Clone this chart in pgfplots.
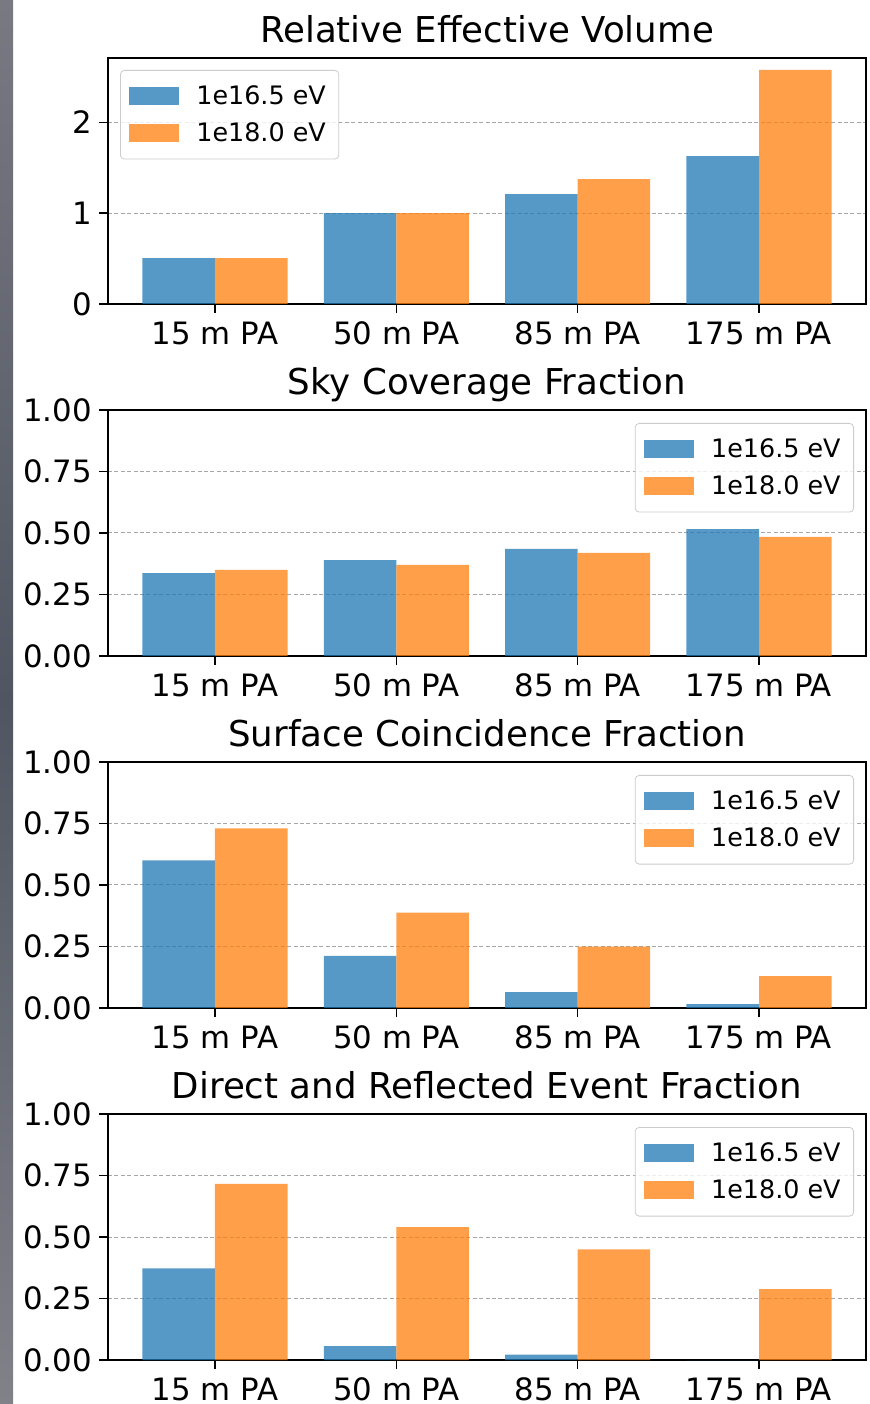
\documentclass[border=0pt]{standalone}
\usepackage{fontspec}
\setmainfont{DejaVu Sans}
\usepackage{pgfplots}
\pgfplotsset{compat=1.18}
\definecolor{tabblue}{RGB}{31,119,180}
\definecolor{taborange}{RGB}{255,127,14}
\definecolor{stripA}{RGB}{120,122,130}
\definecolor{stripB}{RGB}{80,85,97}
\definecolor{stripC}{RGB}{128,130,136}
\pgfplotsset{
  panel/.style={
    scale only axis, width=379pt, height=123pt, anchor=south west,
    xmin=-0.59, xmax=3.59, ymin=0,
    xtick={0,1,2,3}, xticklabels={15 m PA,50 m PA,85 m PA,175 m PA},
    tick align=outside, major tick length=4.5pt,
    xtick pos=bottom, ytick pos=left,
    tick style={black, line width=0.8pt},
    axis line style={line width=0.9pt},
    ymajorgrids, major grid style={black!35, line width=0.5pt, dash pattern=on 2pt off 1.2pt},
    ticklabel style={font=\fontsize{15.4}{17}\selectfont},
    xticklabel style={yshift=-0.8pt},
    /pgf/number format/assume math mode=true,
    title style={font=\fontsize{17.8}{20}\selectfont, at={(0.5,1)}, anchor=base, yshift=1.75pt},
    legend cell align=left,
    legend style={font=\fontsize{12.7}{14}\selectfont, draw=black!20, rounded corners=2pt,
      fill=white, fill opacity=0.8, text opacity=1, draw opacity=1,
      inner xsep=4.5pt, inner ysep=5.5pt, row sep=3.5pt, column sep=6.5pt},
  },
  bb/.style={ybar, bar width=0.4, bar shift=0pt, fill=tabblue, fill opacity=0.75, draw=none,
    legend image code/.code={\fill[tabblue, fill opacity=0.75, sharp corners] (0pt,-4.5pt) rectangle (25pt,4.5pt);}},
  oo/.style={ybar, bar width=0.4, bar shift=0pt, fill=taborange, fill opacity=0.75, draw=none,
    legend image code/.code={\fill[taborange, fill opacity=0.75, sharp corners] (0pt,-4.5pt) rectangle (25pt,4.5pt);}},
}
\begin{document}
\begin{tikzpicture}
\useasboundingbox (0,0) rectangle (434.5pt,702pt);
\fill[white] (0,0) rectangle (434.5pt,702pt);
\shade[top color=stripA, bottom color=stripC, middle color=stripB] (0,0) rectangle (6.5pt,702pt);

% Panel 1
\begin{axis}[panel, at={(54pt,550pt)}, ymax=2.71, ytick={0,1,2},
  title={Relative Effective Volume},
  legend style={at={(0,1)}, anchor=north west, xshift=6pt, yshift=-6pt}]
\addplot[bb] coordinates {(-0.2,0.505) (0.8,1.0) (1.8,1.21) (2.8,1.63)};
\addplot[oo] coordinates {(0.2,0.505) (1.2,1.0) (2.2,1.375) (3.2,2.58)};
\legend{1e16.5 eV, 1e18.0 eV}
\end{axis}

% Panel 2
\begin{axis}[panel, at={(54pt,374pt)}, ymax=1, ytick={0,0.25,0.5,0.75,1},
  yticklabels={0.00,0.25,0.50,0.75,1.00},
  legend style={at={(1,1)}, anchor=north east, xshift=-6pt, yshift=-6.5pt},
  title={Sky Coverage Fraction}]
\addplot[bb] coordinates {(-0.2,0.337) (0.8,0.39) (1.8,0.435) (2.8,0.516)};
\addplot[oo] coordinates {(0.2,0.35) (1.2,0.37) (2.2,0.419) (3.2,0.484)};
\legend{1e16.5 eV, 1e18.0 eV}
\end{axis}

% Panel 3
\begin{axis}[panel, at={(54pt,198pt)}, ymax=1, ytick={0,0.25,0.5,0.75,1},
  yticklabels={0.00,0.25,0.50,0.75,1.00},
  legend style={at={(1,1)}, anchor=north east, xshift=-6pt, yshift=-6.5pt},
  title={Surface Coincidence Fraction}]
\addplot[bb] coordinates {(-0.2,0.60) (0.8,0.212) (1.8,0.065) (2.8,0.016)};
\addplot[oo] coordinates {(0.2,0.73) (1.2,0.388) (2.2,0.249) (3.2,0.13)};
\legend{1e16.5 eV, 1e18.0 eV}
\end{axis}

% Panel 4
\begin{axis}[panel, at={(54pt,22pt)}, ymax=1, ytick={0,0.25,0.5,0.75,1},
  yticklabels={0.00,0.25,0.50,0.75,1.00},
  legend style={at={(1,1)}, anchor=north east, xshift=-6pt, yshift=-6.5pt},
  title={Direct and Reflected Event Fraction}]
\addplot[bb] coordinates {(-0.2,0.372) (0.8,0.056) (1.8,0.022) (2.8,0.0)};
\addplot[oo] coordinates {(0.2,0.716) (1.2,0.540) (2.2,0.450) (3.2,0.288)};
\legend{1e16.5 eV, 1e18.0 eV}
\end{axis}
\end{tikzpicture}
\end{document}
